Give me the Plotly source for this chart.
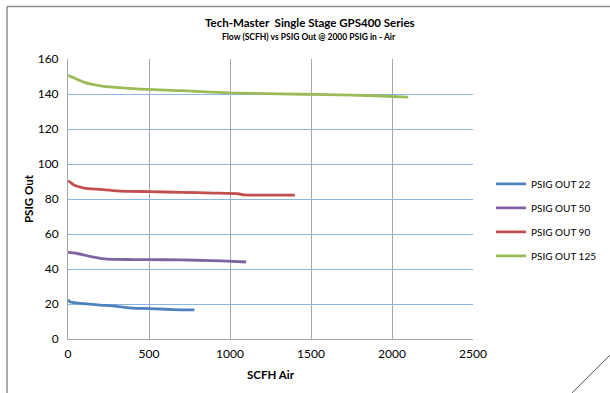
import plotly.graph_objects as go

# Data
x22 = [0, 15, 40, 100, 200, 300, 350, 400, 500, 600, 700, 780]
y22 = [22.5, 21.2, 20.8, 20.2, 19.4, 18.7, 18.1, 17.7, 17.4, 17.0, 16.7, 16.6]

x50 = [0, 50, 100, 170, 240, 400, 600, 800, 950, 1100]
y50 = [49.5, 49.0, 48.0, 46.6, 45.6, 45.4, 45.3, 45.0, 44.6, 44.0]

x90 = [0, 15, 40, 100, 200, 300, 500, 700, 900, 1050, 1090, 1200, 1400]
y90 = [90.3, 89.5, 87.8, 86.2, 85.5, 84.7, 84.2, 83.8, 83.4, 83.0, 82.3, 82.2, 82.2]

x125 = [0, 30, 60, 100, 200, 400, 700, 1000, 1300, 1600, 1900, 2100]
y125 = [150.5, 149.5, 148.2, 146.6, 144.7, 143.1, 141.9, 140.6, 140.1, 139.6, 139.0, 138.2]

names = ["PSIG OUT 22", "PSIG OUT 50", "PSIG OUT 90", "PSIG OUT 125"]
colors = ["#4f81bd", "#8064a2", "#c0504d", "#9bbb59"]
xs = [x22, x50, x90, x125]
ys = [y22, y50, y90, y125]

xticks = [0, 500, 1000, 1500, 2000, 2500]
yticks = [0, 20, 40, 60, 80, 100, 120, 140, 160]

FONT = "Lato"

fig = go.Figure()
for i, (n, c, x, y) in enumerate(zip(names, colors, xs, ys)):
    fig.add_trace(go.Scatter(x=x, y=y, name=n, mode="lines", legendgroup=f"g{i}",
                             line=dict(color=c, width=2.8, shape="spline", smoothing=0.6)))

L, R, T, B = 68, 473, 58.5, 339
W, H = 610, 393

def px(xp):
    return (xp - L) / (R - L)

def py(yp):
    return (B - yp) / (B - T)

fig.update_layout(
    width=W, height=H,
    margin=dict(l=L, r=W - R, t=T, b=H - B, pad=0, autoexpand=False),
    paper_bgcolor="white", plot_bgcolor="white",
    font=dict(family=FONT, color="#000000", size=11),
    showlegend=True,
    legend=dict(x=px(491), y=py(169), xanchor="left", yanchor="top",
                font=dict(size=10, family=FONT), tracegroupgap=5,
                itemwidth=30, bgcolor="rgba(0,0,0,0)"),
    xaxis=dict(range=[0, 2500], tickvals=xticks, ticktext=[str(v) for v in xticks],
               showgrid=True, gridcolor="#a6a6a6", gridwidth=1,
               showline=True, linecolor="#a6a6a6", linewidth=1, zeroline=False,
               ticks="", ticklen=0, tickfont=dict(size=12, family=FONT), ticklabelstandoff=4,
               title=dict(text="<b>SCFH Air</b>", font=dict(size=11.5, family=FONT), standoff=10)),
    yaxis=dict(range=[0, 160], tickvals=yticks, ticktext=[str(v) for v in yticks],
               showgrid=True, gridcolor="#8eb4e3", gridwidth=1,
               showline=True, linecolor="#a6a6a6", linewidth=1, zeroline=False,
               ticks="", ticklen=0, tickfont=dict(size=12, family=FONT), ticklabelstandoff=6,
               title=dict(text="<b>PSIG Out</b>", font=dict(size=11.5, family=FONT), standoff=1)),
    annotations=[
        dict(text="<b>Tech-Master  Single Stage GPS400 Series</b>", x=px(310), y=py(22),
             xref="paper", yref="paper", showarrow=False, xanchor="center", yanchor="middle",
             font=dict(size=11.5, family=FONT)),
        dict(text="<b>Flow (SCFH) vs PSIG Out @ 2000 PSIG in - Air</b>", x=px(309), y=py(36),
             xref="paper", yref="paper", showarrow=False, xanchor="center", yanchor="middle",
             font=dict(size=8.5, family=FONT)),
    ],
    shapes=[
        dict(type="line", xref="paper", yref="paper", x0=px(7), x1=px(W), y0=py(6), y1=py(6),
             line=dict(color="#8c8c8c", width=1.5)),
        dict(type="line", xref="paper", yref="paper", x0=px(7), x1=px(7), y0=py(6), y1=py(H),
             line=dict(color="#8c8c8c", width=1.5)),
        dict(type="line", xref="paper", yref="paper", x0=px(572), x1=px(W), y0=py(H), y1=py(355),
             line=dict(color="#555555", width=1)),
    ],
)

fig.write_html("out.html")
